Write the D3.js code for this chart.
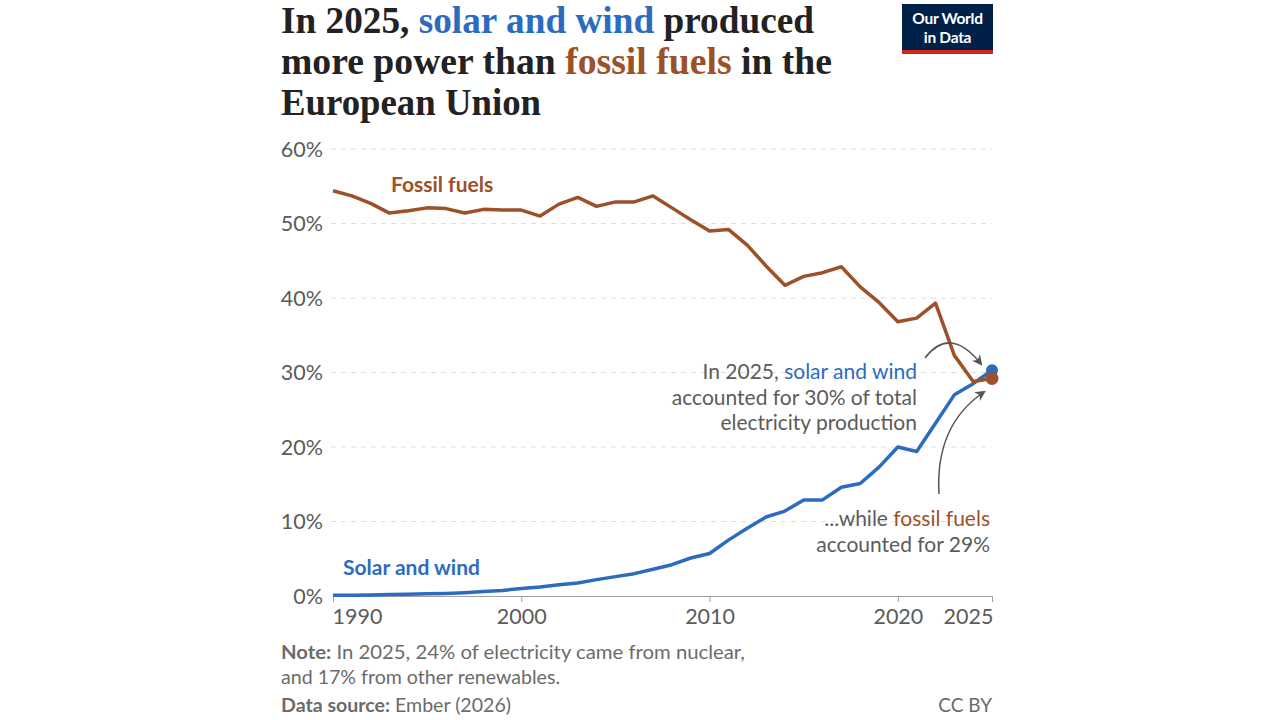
<!DOCTYPE html>
<html><head><meta charset="utf-8">
<script src="https://cdn.jsdelivr.net/npm/d3@7"></script>
<style>
html,body{margin:0;padding:0;background:#fff;}
svg{display:block;}
text{font-family:Lato,"Noto Sans",sans-serif;}
.title{font-family:"Liberation Serif","DejaVu Serif",serif;font-weight:700;}
</style></head>
<body>
<svg id="c" width="1280" height="720"></svg>
<script>
const years = d3.range(1990, 2026);
const fossilFuels = [54.4,53.7,52.7,51.4,51.7,52.1,52.0,51.4,51.9,51.8,51.8,51.0,52.6,53.5,52.3,52.9,52.9,53.7,52.1,50.5,49.0,49.2,47.1,44.3,41.7,42.9,43.4,44.2,41.5,39.4,36.8,37.3,39.3,32.3,28.8,29.2];
const solarWind = [0.1,0.1,0.15,0.2,0.25,0.3,0.35,0.45,0.6,0.75,1.0,1.2,1.5,1.75,2.2,2.6,3.0,3.6,4.2,5.1,5.7,7.5,9.1,10.6,11.4,12.9,12.9,14.6,15.1,17.3,20.0,19.4,23.2,27.0,28.5,30.3];
const yTicks = [0,10,20,30,40,50,60];
const xTicks = [1990,2000,2010,2020,2025];

const BLUE = "#2d6bbf", BROWN = "#9c5128", GRAY = "#5b5b5b";
const svg = d3.select("#c");

// Title
const tl = [
  [["In 2025, ","#222"],["solar and wind",BLUE],[" produced","#222"]],
  [["more power than ","#222"],["fossil fuels",BROWN],[" in the","#222"]],
  [["European Union","#222"]]
];
const tlWidths = [533, 551, 260];
tl.forEach((line,i)=>{
  const t = svg.append("text").attr("class","title").attr("x",281).attr("y",33+i*41)
    .attr("font-size",37).attr("fill","#222")
    .attr("textLength",tlWidths[i]).attr("lengthAdjust","spacingAndGlyphs");
  line.forEach(seg=>t.append("tspan").attr("fill",seg[1]).text(seg[0]));
});

// Logo
const logo = svg.append("g");
logo.append("rect").attr("x",902).attr("y",4).attr("width",91).attr("height",50).attr("fill","#002147");
logo.append("rect").attr("x",902).attr("y",50).attr("width",91).attr("height",4).attr("fill","#ce261e");
logo.append("text").attr("x",947.5).attr("y",24).attr("text-anchor","middle").attr("fill","#fff").attr("font-size",15.5).attr("font-weight",700).attr("letter-spacing",-0.3).text("Our World");
logo.append("text").attr("x",947.5).attr("y",43).attr("text-anchor","middle").attr("fill","#fff").attr("font-size",15.5).attr("font-weight",700).attr("letter-spacing",-0.3).text("in Data");

// Scales
const x = d3.scaleLinear().domain([1990,2025]).range([333,992]);
const y = d3.scaleLinear().domain([0,60]).range([596,149]);

// Gridlines
svg.append("g").selectAll("line").data(yTicks.filter(d=>d>0)).join("line")
  .attr("x1",331).attr("x2",992).attr("y1",d=>y(d)).attr("y2",d=>y(d))
  .attr("stroke","#dddddd").attr("stroke-width",1.2).attr("stroke-dasharray","5,5");

// Y labels
svg.append("g").selectAll("text").data(yTicks).join("text")
  .attr("x",323).attr("y",d=>y(d)+7.5).attr("text-anchor","end")
  .attr("font-size",21.5).attr("fill",GRAY).text(d=>d+"%");

// X axis
const xAxis = d3.axisBottom(x).tickValues(xTicks).tickSize(6).tickFormat(d3.format("d"));
const gx = svg.append("g").attr("transform","translate(0,596)").call(xAxis);
gx.select(".domain").attr("stroke","#a0a0a0").attr("stroke-width",1);
gx.selectAll(".tick line").attr("stroke","#a0a0a0");
gx.selectAll(".tick text").attr("font-size",21.5).attr("fill",GRAY).attr("dy","0.9em").attr("font-family","Lato,sans-serif")
  .attr("text-anchor",d=>d===1990?"start":(d===2025?"end":"middle"))
  .attr("dx",d=>d===1990?-1:(d===2025?1:0));

// Lines
const line = d3.line().x((d,i)=>x(years[i])).y(d=>y(d)).curve(d3.curveLinear);
svg.append("path").datum(solarWind).attr("d",line).attr("fill","none").attr("stroke",BLUE).attr("stroke-width",3.5).attr("stroke-linejoin","round");
svg.append("path").datum(fossilFuels).attr("d",line).attr("fill","none").attr("stroke",BROWN).attr("stroke-width",3.5).attr("stroke-linejoin","round");

// End dots
svg.append("circle").attr("cx",x(2025)).attr("cy",y(solarWind[35])).attr("r",6).attr("fill",BLUE);
svg.append("circle").attr("cx",x(2025)).attr("cy",y(fossilFuels[35])).attr("r",6.5).attr("fill",BROWN);

// Series labels
svg.append("text").attr("x",391).attr("y",192).attr("font-size",21).attr("font-weight",700).attr("fill",BROWN).text("Fossil fuels");
svg.append("text").attr("x",343).attr("y",575).attr("font-size",21).attr("font-weight",700).attr("fill",BLUE).text("Solar and wind");

// Annotations
function ann(xp, y0, lines){
  const t = svg.append("text").attr("text-anchor","end").attr("font-size",21).attr("fill",GRAY);
  lines.forEach((ln,i)=>{
    ln.forEach((seg,j)=>{
      const s = t.append("tspan").attr("fill",seg[1]||GRAY).text(seg[0]);
      if(j===0) s.attr("x",xp).attr("y",y0+i*25.5);
    });
  });
}
ann(917,379,[[["In 2025, "],["solar and wind",BLUE]],[["accounted for 30% of total"]],[["electricity production"]]]);
ann(990,526,[[["...while "],["fossil fuels",BROWN]],[["accounted for 29%"]]]);

// Arrows
const defs = svg.append("defs");
defs.append("marker").attr("id","ah").attr("viewBox","0 0 10 10").attr("refX",8).attr("refY",5)
  .attr("markerWidth",7).attr("markerHeight",7).attr("orient","auto-start-reverse")
  .append("path").attr("d","M0,0 L10,5 L0,10 L3,5 Z").attr("fill","#555");
svg.append("path").attr("d","M925,358 Q950,325 981,364").attr("fill","none").attr("stroke","#555").attr("stroke-width",1.5).attr("marker-end","url(#ah)");
svg.append("path").attr("d","M939,494 Q935,425 984,392").attr("fill","none").attr("stroke","#555").attr("stroke-width",1.5).attr("marker-end","url(#ah)");

// Footer
const FG = "#6b6b6b";
function foot(yp, bold, rest, w){
  const t = svg.append("text").attr("x",281).attr("y",yp).attr("font-size",19).attr("fill",FG);
  if(w) t.attr("textLength",w).attr("lengthAdjust","spacingAndGlyphs");
  if(bold) t.append("tspan").attr("font-weight",700).text(bold);
  t.append("tspan").text(rest);
}
foot(659,"Note:"," In 2025, 24% of electricity came from nuclear,",464);
foot(684,null,"and 17% from other renewables.",279);
foot(712,"Data source:"," Ember (2026)",230);
svg.append("text").attr("x",992).attr("y",712).attr("text-anchor","end").attr("font-size",19).attr("fill",FG).text("CC BY");
</script>
</body></html>
